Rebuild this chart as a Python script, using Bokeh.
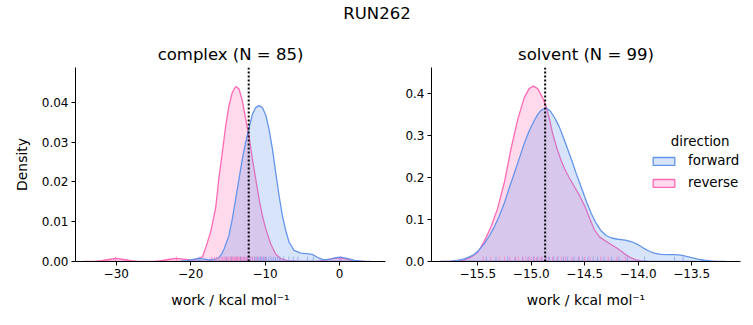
from bokeh.plotting import figure
from bokeh.models import Span, Label, Legend, LegendItem, FixedTicker, Range1d
from bokeh.layouts import column, row
from bokeh.embed import file_html
from bokeh.resources import INLINE

FONT = "DejaVu Sans"
BLUE = "#6495ED"
PINK = "#FF69B4"

suptitle = "RUN262"
titles = ["complex (N = 85)", "solvent (N = 99)"]
xlabel = "work / kcal mol\u207b\u00b9"
ylabel = "Density"
series_names = ["forward", "reverse"]
legend_title = "direction"

# complex KDE curves
cx_fwd = [-21.5, -20.5, -19.5, -18.9, -18.2, -17.5, -16.8, -16.2, -15.8, -15.5, -14.85, -14.4, -13.95, -13.5, -13.05,
          -12.6, -12.16, -11.7, -11.26, -10.83, -10.36, -9.9, -9.47, -9.01, -8.57, -8.12, -7.67, -7.22, -6.78, -6.1,
          -5.2, -4.4, -3.67, -2.9, -2.1, -1.2, -0.5, 0.13, 1.0, 2.0, 3.0, 4.2]
cy_fwd = [0.0, 0.0002, 0.0006, 0.0008, 0.0006, 0.0004, 0.0005, 0.0010, 0.0020, 0.0032, 0.0065, 0.0107, 0.0157, 0.0208, 0.0258,
          0.0300, 0.0335, 0.0370, 0.0387, 0.0392, 0.0387, 0.0368, 0.0333, 0.0283, 0.0224, 0.0166, 0.0115, 0.0078, 0.0049, 0.0028,
          0.0021, 0.0020, 0.0018, 0.0010, 0.0004, 0.0006, 0.0010, 0.0011, 0.0008, 0.0003, 0.0001, 0.0]
cx_rev = [-34.5, -33.0, -32.0, -31.0, -30.0, -29.0, -28.0, -27.0, -26.0, -25.0, -24.0, -23.0, -22.0, -21.0, -20.0,
          -19.5, -19.0, -18.4, -17.8, -17.3, -16.64, -16.2, -15.74, -15.3, -14.85, -14.4, -13.95, -13.5, -13.05, -12.6,
          -12.16, -11.7, -11.26, -10.8, -10.36, -9.9, -9.24, -8.57, -7.9, -7.0, -5.0, -3.0, -2.0, -1.0, 0.0, 1.0, 2.0, 3.5]
cy_rev = [0.0, 0.00005, 0.0002, 0.0005, 0.0008, 0.0005, 0.0002, 0.00005, 0.0, 0.00005, 0.0002, 0.0005, 0.0008, 0.0006, 0.0004,
          0.0004, 0.0007, 0.0012, 0.0045, 0.0075, 0.0135, 0.0210, 0.0275, 0.0340, 0.0392, 0.0425, 0.0440, 0.0434, 0.0404, 0.0358,
          0.0315, 0.0258, 0.0208, 0.0157, 0.0115, 0.0082, 0.0044, 0.0019, 0.0007, 0.0002, 0.0, 0.0001, 0.0003, 0.0007, 0.0009,
          0.0006, 0.0002, 0.0]

# solvent KDE curves
sx_fwd = [-15.85, -15.75, -15.68, -15.627, -15.58, -15.534, -15.49, -15.44, -15.39, -15.346, -15.30, -15.253, -15.21,
          -15.16, -15.11, -15.066, -15.02, -14.972, -14.94, -14.909, -14.86, -14.82, -14.78, -14.74, -14.70, -14.66,
          -14.62, -14.58, -14.53, -14.48, -14.44, -14.40, -14.35, -14.30, -14.25, -14.19, -14.12, -14.06, -14.00,
          -13.95, -13.90, -13.85, -13.79, -13.72, -13.66, -13.60, -13.55, -13.50, -13.44, -13.38, -13.32, -13.25, -13.18]
sy_fwd = [0.0, 0.001, 0.003, 0.0064, 0.011, 0.0167, 0.027, 0.042, 0.062, 0.082, 0.108, 0.138, 0.172,
          0.209, 0.247, 0.281, 0.311, 0.336, 0.350, 0.360, 0.366, 0.358, 0.342, 0.322, 0.296, 0.268,
          0.240, 0.210, 0.175, 0.140, 0.115, 0.094, 0.074, 0.062, 0.056, 0.053, 0.051, 0.047, 0.040,
          0.032, 0.025, 0.020, 0.017, 0.0165, 0.0165, 0.015, 0.012, 0.009, 0.0055, 0.003, 0.0015, 0.0005, 0.0]
sx_rev = [-15.85, -15.75, -15.68, -15.627, -15.565, -15.50, -15.44, -15.377, -15.315, -15.25, -15.19, -15.127, -15.066,
          -15.02, -14.98, -14.94, -14.893, -14.86, -14.83, -14.80, -14.76, -14.72, -14.69, -14.65, -14.60, -14.55,
          -14.50, -14.45, -14.41, -14.36, -14.30, -14.25, -14.20, -14.16, -14.12, -14.07, -14.02, -13.97, -13.90]
sy_rev = [0.0, 0.0008, 0.002, 0.0035, 0.0103, 0.022, 0.048, 0.082, 0.126, 0.190, 0.268, 0.338, 0.390,
          0.412, 0.418, 0.412, 0.390, 0.368, 0.340, 0.305, 0.270, 0.240, 0.222, 0.202, 0.180, 0.158,
          0.132, 0.100, 0.076, 0.058, 0.048, 0.040, 0.032, 0.025, 0.017, 0.009, 0.004, 0.0015, 0.0]

# rug samples
c_rug_fwd = [-18.9, -15.2, -14.5, -13.8, -13.3, -12.8, -12.4, -12.0, -11.7, -11.4, -11.2, -11.0, -10.8, -10.6, -10.4,
             -10.2, -10.0, -9.8, -9.5, -9.2, -8.9, -8.6, -8.3, -8.0, -7.5, -6.8, -6.2, -5.6, -4.3, -3.5, 0.1]
c_rug_rev = [-30.1, -21.9, -17.2, -16.8, -16.5, -16.2, -15.9, -15.7, -15.5, -15.3, -15.1, -14.9, -14.7, -14.6, -14.4,
             -14.3, -14.1, -14.0, -13.9, -13.7, -13.6, -13.4, -13.2, -13.1, -12.9, -12.7, -12.5, -12.3, -12.0, -11.7,
             -11.4, -11.0, -10.5, -10.0, 0.2]
s_rug_fwd = [-15.42, -15.33, -15.22, -15.15, -15.08, -15.03, -14.98, -14.94, -14.9, -14.86, -14.83, -14.79, -14.75,
             -14.7, -14.66, -14.6, -14.56, -14.52, -14.47, -14.42, -14.38, -14.32, -14.25, -14.18, -14.1, -13.94,
             -13.66, -13.58]
s_rug_rev = [-15.45, -15.38, -15.3, -15.25, -15.2, -15.15, -15.12, -15.08, -15.05, -15.02, -15.0, -14.97, -14.95,
             -14.92, -14.9, -14.87, -14.84, -14.8, -14.76, -14.72, -14.68, -14.62, -14.55, -14.5, -14.45, -14.35,
             -14.28, -14.2, -14.12]

# reference (dotted) lines
c_vline = -12.2
s_vline = -14.87

c_xticks = [-30, -20, -10, 0]
c_xtick_labels = ["\u221230", "\u221220", "\u221210", "0"]
c_yticks = [0.0, 0.01, 0.02, 0.03, 0.04]
c_ytick_labels = ["0.00", "0.01", "0.02", "0.03", "0.04"]
s_xticks = [-15.5, -15.0, -14.5, -14.0, -13.5]
s_xtick_labels = ["\u221215.5", "\u221215.0", "\u221214.5", "\u221214.0", "\u221213.5"]
s_yticks = [0.0, 0.1, 0.2, 0.3, 0.4]
s_ytick_labels = ["0.0", "0.1", "0.2", "0.3", "0.4"]

c_xrange = (-35.48, 6.19)
c_yrange = (0.0, 0.04878)
s_xrange = (-15.933, -13.043)
s_yrange = (0.0, 0.4623)


def style(p, xt, xl, yt, yl, show_ylabel):
    p.outline_line_color = None
    p.grid.visible = False
    p.title.align = "center"
    p.title.text_font = FONT
    p.title.text_font_size = "16.5px"
    p.title.text_font_style = "normal"
    p.title.text_color = "black"
    p.title.standoff = 8
    p.xaxis.ticker = FixedTicker(ticks=xt)
    p.xaxis.major_label_overrides = {t: l for t, l in zip(xt, xl)}
    p.yaxis.ticker = FixedTicker(ticks=yt)
    p.yaxis.major_label_overrides = {t: l for t, l in zip(yt, yl)}
    for ax in (p.xaxis[0], p.yaxis[0]):
        ax.minor_tick_line_color = None
        ax.major_tick_in = 0
        ax.major_tick_out = 4
        ax.major_label_text_font = FONT
        ax.major_label_text_font_size = "12px"
        ax.major_label_text_color = "black"
        ax.axis_line_color = "black"
        ax.major_tick_line_color = "black"
        ax.axis_label_text_font = FONT
        ax.axis_label_text_font_size = "13.9px"
        ax.axis_label_text_font_style = "normal"
        ax.axis_label_text_color = "black"
        ax.major_label_standoff = 3
    p.xaxis.axis_label = xlabel
    p.xaxis.axis_label_standoff = 11
    if show_ylabel:
        p.yaxis.axis_label = ylabel
        p.yaxis.axis_label_standoff = 9


def draw(p, xf, yf, xr, yr, rugf, rugr, vline, ytop):
    h = 0.025 * ytop
    pr = p.patch(xr, yr, fill_color=PINK, fill_alpha=0.25, line_color=PINK, line_width=1.3)
    pf = p.patch(xf, yf, fill_color=BLUE, fill_alpha=0.25, line_color=BLUE, line_width=1.3)
    p.segment(x0=rugf, y0=[0] * len(rugf), x1=rugf, y1=[h] * len(rugf), line_color=BLUE, line_alpha=0.6, line_width=1)
    p.segment(x0=rugr, y0=[0] * len(rugr), x1=rugr, y1=[h] * len(rugr), line_color=PINK, line_alpha=0.6, line_width=1)
    p.add_layout(Span(location=vline, dimension="height", line_color="black", line_width=2, line_dash="2 2"))
    return pf, pr


p0 = figure(width=753, height=28, x_range=Range1d(0, 753), y_range=Range1d(0, 28), min_border=0,
            toolbar_location=None, output_backend="svg", x_axis_location=None, y_axis_location=None)
p0.outline_line_color = None
p0.grid.visible = False
p0.add_layout(Label(x=376.5, y=15, text=suptitle, text_align="center", text_baseline="middle",
                    text_font=FONT, text_font_size="16.5px", text_color="black"))

p1 = figure(width=400, height=297, x_range=Range1d(*c_xrange), y_range=Range1d(*c_yrange),
            min_border_left=75, min_border_right=15, min_border_top=39, min_border_bottom=64,
            toolbar_location=None, output_backend="svg", title=titles[0])
style(p1, c_xticks, c_xtick_labels, c_yticks, c_ytick_labels, True)
draw(p1, cx_fwd, cy_fwd, cx_rev, cy_rev, c_rug_fwd, c_rug_rev, c_vline, c_yrange[1])

p2 = figure(width=353, height=297, x_range=Range1d(*s_xrange), y_range=Range1d(*s_yrange),
            min_border_left=31, min_border_right=13, min_border_top=39, min_border_bottom=64,
            toolbar_location=None, output_backend="svg", title=titles[1])
style(p2, s_xticks, s_xtick_labels, s_yticks, s_ytick_labels, False)
pf2, pr2 = draw(p2, sx_fwd, sy_fwd, sx_rev, sy_rev, s_rug_fwd, s_rug_rev, s_vline, s_yrange[1])

legend = Legend(items=[LegendItem(label=series_names[0], renderers=[pf2]),
                       LegendItem(label=series_names[1], renderers=[pr2])],
                location=(219, 71), padding=0, margin=0, border_line_color=None,
                background_fill_alpha=0, glyph_width=27, glyph_height=10, label_standoff=11,
                spacing=7, label_height=14, label_text_font=FONT, label_text_font_size="13.4px",
                label_text_color="black")
p2.add_layout(legend)
p2.add_layout(Label(x=-13.42, y=0.285, text=legend_title, text_align="center", text_baseline="middle",
                    text_font=FONT, text_font_size="13.4px", text_color="black"))

layout = column(p0, row(p1, p2, spacing=0), spacing=0)
open("out.html", "w").write(file_html(layout, INLINE))
